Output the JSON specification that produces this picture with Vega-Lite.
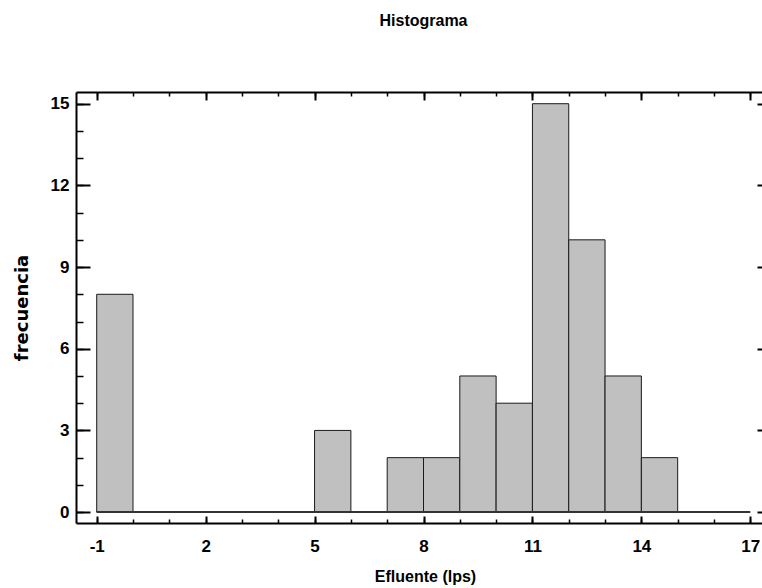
{
  "$schema": "https://vega.github.io/schema/vega-lite/v6.json",
  "autosize": {"type": "none"},
  "padding": {"left": 76, "top": 92, "right": 0, "bottom": 65},
  "width": 695,
  "height": 431,
  "background": "white",
  "title": {"text": "Histograma", "font": "Liberation Sans", "fontSize": 16, "fontWeight": "bold", "anchor": "middle", "offset": 62, "color": "#000000"},
  "config": {"view": {"stroke": null}, "axis": {"grid": false}},
  "datasets": {
    "bins": [
      {"start": -1, "end": 0, "count": 8},
      {"start": 5, "end": 6, "count": 3},
      {"start": 7, "end": 8, "count": 2},
      {"start": 8, "end": 9, "count": 2},
      {"start": 9, "end": 10, "count": 5},
      {"start": 10, "end": 11, "count": 4},
      {"start": 11, "end": 12, "count": 15},
      {"start": 12, "end": 13, "count": 10},
      {"start": 13, "end": 14, "count": 5},
      {"start": 14, "end": 15, "count": 2}
    ]
  },
  "layer": [
    {
      "data": {"name": "bins"},
      "mark": {"type": "bar", "fill": "#c0c0c0", "stroke": "#1a1a1a", "strokeWidth": 1},
      "encoding": {
        "x": {"field": "start", "type": "quantitative",
          "scale": {"domain": [-1.57, 17.57], "nice": false, "zero": false},
          "axis": {"orient": "bottom", "values": [-1, 2, 5, 8, 11, 14, 17], "ticks": false,
            "domain": true, "domainWidth": 2, "domainColor": "#000000",
            "labelFont": "Liberation Sans", "labelFontSize": 17, "labelFontWeight": "bold", "labelColor": "#000000",
            "labelPadding": 28.5, "labelBaseline": "alphabetic", "labelFlush": false, "labelOverlap": false, "labelExpr": "'' + datum.value",
            "title": "Efluente (lps)", "titleFont": "Liberation Sans", "titleFontSize": 16, "titleFontWeight": "bold", "titleColor": "#000000",
            "titleX": 349, "titleY": 58, "titleBaseline": "alphabetic"}},
        "x2": {"field": "end"},
        "y": {"field": "count", "type": "quantitative",
          "scale": {"domain": [-0.4, 15.43], "nice": false, "zero": false},
          "axis": {"orient": "left", "values": [0, 3, 6, 9, 12, 15], "ticks": false,
            "domain": true, "domainWidth": 2, "domainColor": "#000000",
            "labelFont": "Liberation Sans", "labelFontSize": 17, "labelFontWeight": "bold", "labelColor": "#000000",
            "labelPadding": 7, "labelBaseline": "middle", "labelFlush": false, "labelOverlap": false,
            "title": "frecuencia", "titleFont": "DejaVu Sans", "titleFontSize": 18, "titleFontWeight": "bold", "titleColor": "#000000",
            "titleAngle": 270, "titleX": -49, "titleY": 215.5, "titleBaseline": "alphabetic"}},
        "y2": {"datum": 0}
      }
    },
    {
      "data": {"values": [{}]},
      "mark": {"type": "rule", "stroke": "#333333", "strokeWidth": 2},
      "encoding": {
        "x": {"datum": -1, "type": "quantitative",
          "scale": {"domain": [-1.57, 17.57], "nice": false, "zero": false},
          "axis": {"orient": "bottom", "values": [-1, 2, 5, 8, 11, 14, 17], "offset": -7, "tickSize": 7, "tickWidth": 2, "tickColor": "#000000",
            "domain": false, "labels": false, "title": null}},
        "x2": {"datum": 17},
        "y": {"datum": 0, "type": "quantitative",
          "scale": {"domain": [-0.4, 15.43], "nice": false, "zero": false},
          "axis": {"orient": "left", "values": [0, 3, 6, 9, 12, 15], "offset": -14, "tickSize": 14, "tickWidth": 2, "tickColor": "#000000",
            "domain": false, "labels": false, "title": null}}
      }
    },
    {
      "data": {"values": [{}]},
      "mark": {"type": "point", "opacity": 0},
      "encoding": {
        "x": {"datum": 0, "type": "quantitative",
          "scale": {"domain": [-1.57, 17.57], "nice": false, "zero": false},
          "axis": {"orient": "bottom", "values": [-1, 0, 1, 2, 3, 4, 5, 6, 7, 8, 9, 10, 11, 12, 13, 14, 15, 16, 17], "offset": -4, "tickSize": 4, "tickWidth": 1.5, "tickColor": "#000000",
            "domain": false, "labels": false, "title": null}},
        "y": {"datum": 0, "type": "quantitative",
          "scale": {"domain": [-0.4, 15.43], "nice": false, "zero": false},
          "axis": {"orient": "left", "values": [0, 1, 2, 3, 4, 5, 6, 7, 8, 9, 10, 11, 12, 13, 14, 15], "offset": -7, "tickSize": 7, "tickWidth": 1.5, "tickColor": "#000000",
            "domain": false, "labels": false, "title": null}}
      }
    },
    {
      "data": {"values": [{}]},
      "mark": {"type": "point", "opacity": 0},
      "encoding": {
        "x": {"datum": 0, "type": "quantitative",
          "scale": {"domain": [-1.57, 17.57], "nice": false, "zero": false},
          "axis": {"orient": "top", "ticks": false, "domain": true, "domainWidth": 2, "domainColor": "#000000", "labels": false, "title": null}},
        "y": {"datum": 0, "type": "quantitative",
          "scale": {"domain": [-0.4, 15.43], "nice": false, "zero": false},
          "axis": {"orient": "right", "ticks": false, "domain": true, "domainWidth": 2, "domainColor": "#000000", "labels": false, "title": null}}
      }
    },
    {
      "data": {"values": [{}]},
      "mark": {"type": "point", "opacity": 0},
      "encoding": {
        "x": {"datum": 0, "type": "quantitative",
          "scale": {"domain": [-1.57, 17.57], "nice": false, "zero": false},
          "axis": {"orient": "top", "values": [-1, 2, 5, 8, 11, 14, 17], "offset": -8, "tickSize": 8, "tickWidth": 2, "tickColor": "#000000",
            "domain": false, "labels": false, "title": null}},
        "y": {"datum": 0, "type": "quantitative",
          "scale": {"domain": [-0.4, 15.43], "nice": false, "zero": false},
          "axis": {"orient": "right", "values": [0, 3, 6, 9, 12, 15], "offset": -14, "tickSize": 14, "tickWidth": 2, "tickColor": "#000000",
            "domain": false, "labels": false, "title": null}}
      }
    },
    {
      "data": {"values": [{}]},
      "mark": {"type": "point", "opacity": 0},
      "encoding": {
        "x": {"datum": 0, "type": "quantitative",
          "scale": {"domain": [-1.57, 17.57], "nice": false, "zero": false},
          "axis": {"orient": "top", "values": [-1, 0, 1, 2, 3, 4, 5, 6, 7, 8, 9, 10, 11, 12, 13, 14, 15, 16, 17], "offset": -4, "tickSize": 4, "tickWidth": 1.5, "tickColor": "#000000",
            "domain": false, "labels": false, "title": null}},
        "y": {"datum": 0, "type": "quantitative",
          "scale": {"domain": [-0.4, 15.43], "nice": false, "zero": false},
          "axis": {"orient": "right", "values": [0, 1, 2, 3, 4, 5, 6, 7, 8, 9, 10, 11, 12, 13, 14, 15], "offset": -7, "tickSize": 7, "tickWidth": 1.5, "tickColor": "#000000",
            "domain": false, "labels": false, "title": null}}
      }
    }
  ],
  "resolve": {"axis": {"x": "independent", "y": "independent"}}
}
